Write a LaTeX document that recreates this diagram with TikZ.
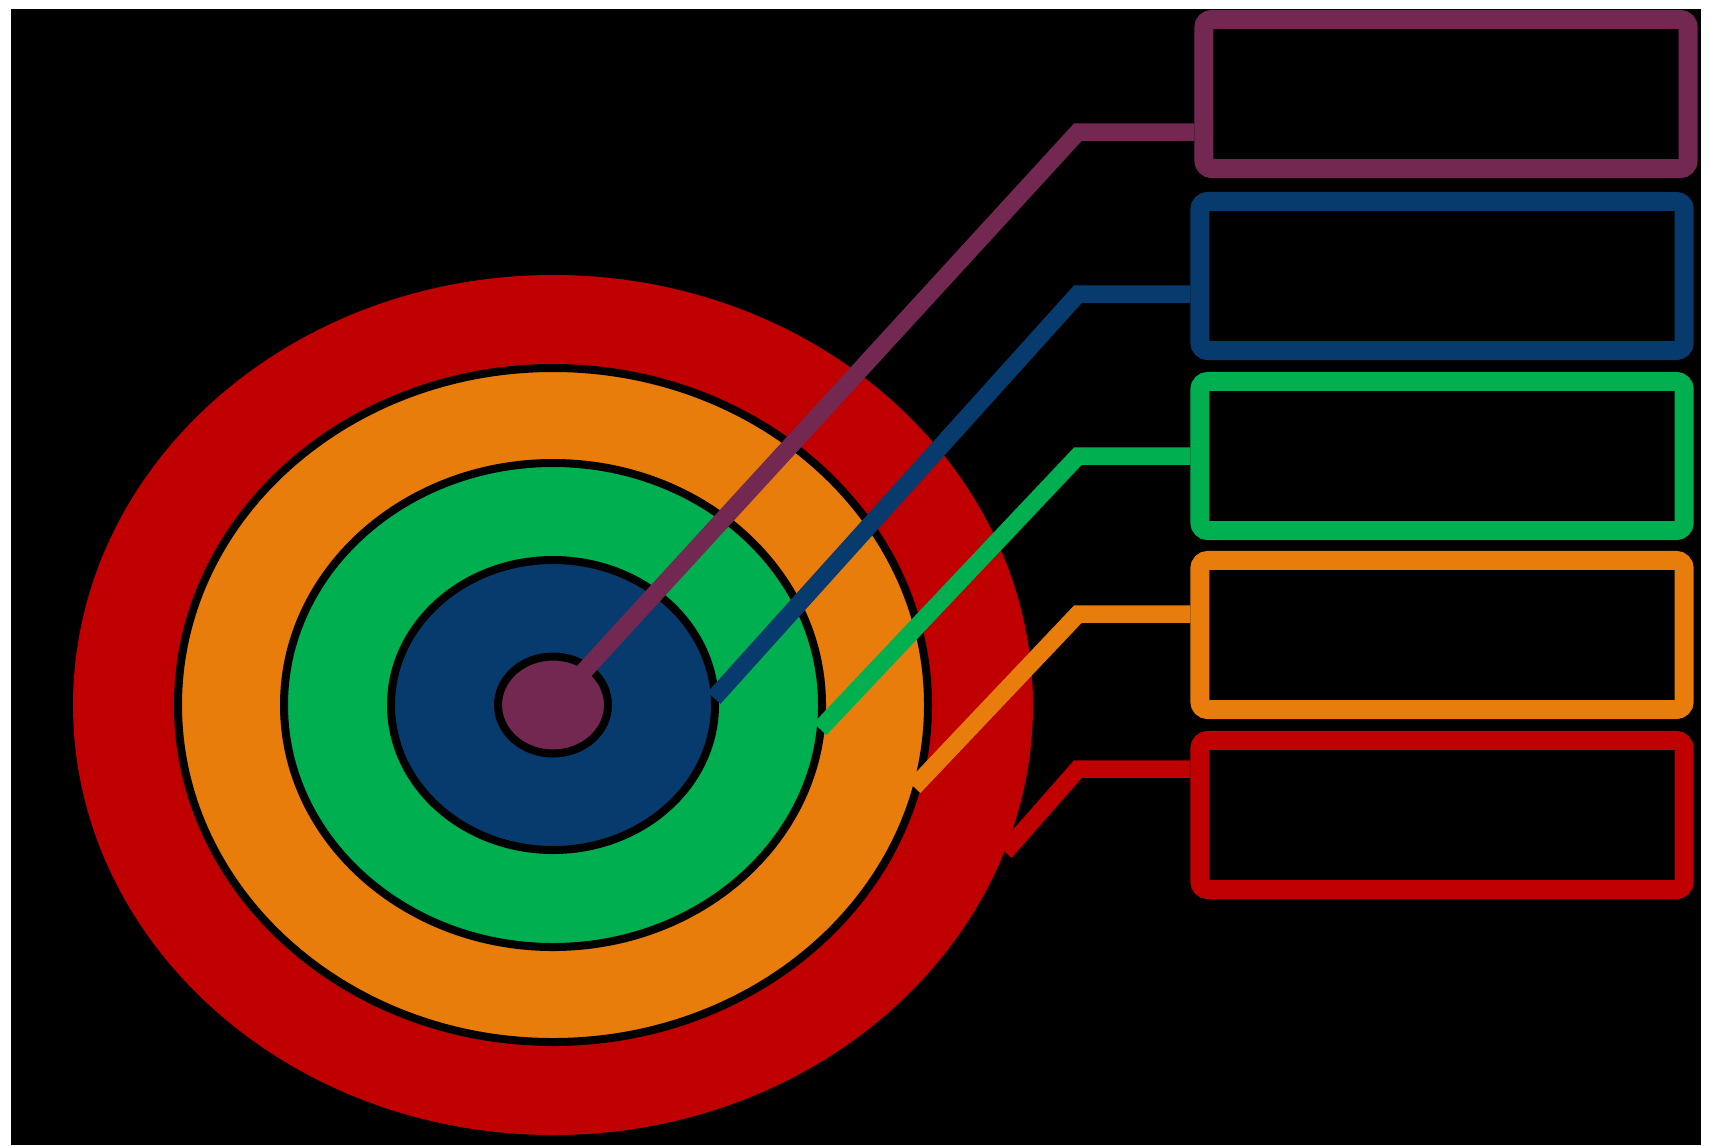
\documentclass[tikz,border=0pt]{standalone}
\definecolor{tgtred}{HTML}{C00000}
\definecolor{tgtorange}{HTML}{E87D0B}
\definecolor{tgtgreen}{HTML}{00B050}
\definecolor{tgtblue}{HTML}{073B6E}
\definecolor{tgtpurple}{HTML}{722850}
\begin{document}
\begin{tikzpicture}[x=0.01cm,y=-0.01cm,
  ring/.style={draw=black,line width=0.08cm},
  lead/.style={line width=0.175cm,line join=miter},
  box/.style={draw,line width=0.19cm,rounded corners=0.08cm,minimum width=4.84cm,minimum height=1.49cm,inner sep=0pt}]
\useasboundingbox (0,0) rectangle (1710,1145);
\fill[white] (0,0) rectangle (1710,1145);
\fill[black] (11,9) rectangle (1701,1145);
% target rings
\fill[tgtred] (553,705) ellipse [x radius=480, y radius=430];
\filldraw[ring,fill=tgtorange] (553,705) ellipse [x radius=375, y radius=337];
\filldraw[ring,fill=tgtgreen] (553,705) ellipse [x radius=269, y radius=242];
\filldraw[ring,fill=tgtblue] (553,705) ellipse [x radius=162, y radius=145];
\filldraw[ring,fill=tgtpurple] (553,705) ellipse [x radius=55, y radius=48.5];
% boxes
\node[box,draw=tgtpurple] (purplebox) at (1446,94) {};
\node[box,draw=tgtblue] (bluebox) at (1442,276) {};
\node[box,draw=tgtgreen] (greenbox) at (1442,456) {};
\node[box,draw=tgtorange] (orangebox) at (1442,635) {};
\node[box,draw=tgtred] (redbox) at (1442,815) {};
% leaders
\coordinate (purplestart) at (553,705);
\coordinate (purplebend) at (1078,132);
\coordinate (bluestart) at (714,698);
\coordinate (bluebend) at (1078,294);
\coordinate (greenstart) at (820,729);
\coordinate (greenbend) at (1078,456);
\coordinate (orangestart) at (914,787);
\coordinate (orangebend) at (1078,614);
\coordinate (redstart) at (1005,852);
\coordinate (redbend) at (1078,769);
\draw[lead,tgtpurple] (purplestart) -- (purplebend) -- (purplebend -| purplebox.west);
\draw[lead,tgtblue] (bluestart) -- (bluebend) -- (bluebend -| bluebox.west);
\draw[lead,tgtgreen] (greenstart) -- (greenbend) -- (greenbend -| greenbox.west);
\draw[lead,tgtorange] (orangestart) -- (orangebend) -- (orangebend -| orangebox.west);
\draw[lead,tgtred] (redstart) -- (redbend) -- (redbend -| redbox.west);
\end{tikzpicture}
\end{document}
